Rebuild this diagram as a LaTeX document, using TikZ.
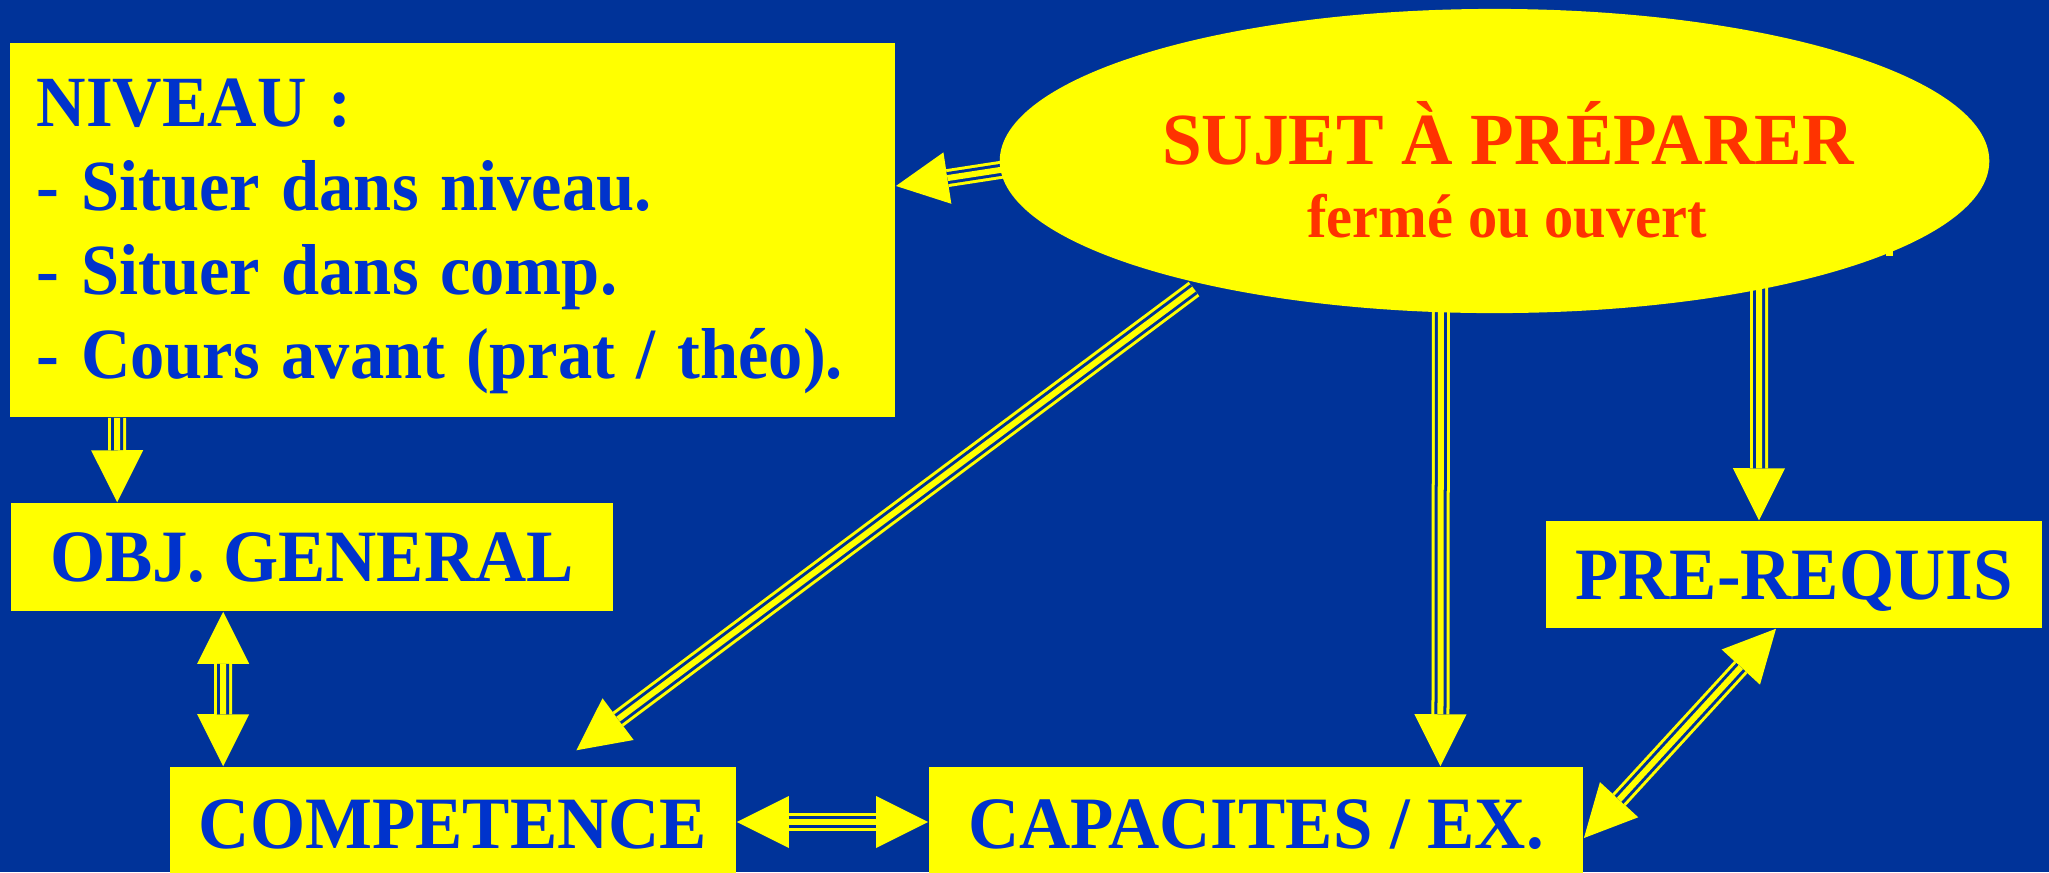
\documentclass[tikz,border=0pt]{standalone}
\usepackage{fontspec}
\newfontfamily\tnr{Liberation Serif}[FakeStretch=0.96]
\newfontfamily\tnrtitle{Liberation Serif}[FakeStretch=0.97]
\newfontfamily\tnrlow{Liberation Serif}[FakeStretch=0.95]
\usetikzlibrary{arrows.meta,shapes.geometric,calc}
\definecolor{bgblue}{HTML}{003399}
\definecolor{txtblue}{HTML}{0033CC}
\definecolor{titred}{HTML}{FF3300}
\definecolor{boxyellow}{HTML}{FFFF00}
\pgfdeclarelayer{bglayer}
\pgfdeclarelayer{connlayer}
\pgfsetlayers{bglayer,connlayer,main}
\newcommand{\nivline}[1]{\mbox{\spaceskip=0.30em\relax #1}}
\tikzset{
  bigtip/.tip={Triangle[length=0.52cm,width=0.52cm,line width=0pt]},
  box/.style={fill=boxyellow, inner sep=0pt, text=txtblue,
    font=\tnr\bfseries\fontsize{21pt}{23.9pt}\selectfont},
  onebox/.style={box, text height=0.49cm, text depth=0pt},
  titlefont/.style={text=titred, inner sep=0pt, anchor=base},
  triple/.style={draw=boxyellow, line width=0.18cm, line cap=butt,
    postaction={draw=bgblue, line width=0.12cm, arrows=-, #1},
    postaction={draw=boxyellow, line width=0.06cm, arrows=-, #1}},
}
\begin{document}
\begin{tikzpicture}[x=0.01cm, y=-0.01cm]
\useasboundingbox (0,0) rectangle (2049,872);
\begin{pgfonlayer}{bglayer}
  \fill[bgblue] (0,0) rectangle (2049,872);
\end{pgfonlayer}

% boxes
\node[box, font=\tnrlow\bfseries\fontsize{20.5pt}{23.9pt}\selectfont,
      minimum width=8.85cm, minimum height=3.74cm, text width=8.31cm,
      inner xsep=0.27cm, align=left] (niveau) at (452.5,230)
  {\nivline{\rule{0pt}{0.6cm}NIVEAU :}\\\nivline{- Situer dans niveau.}\\\nivline{- Situer dans comp.}\\\nivline{- Cours avant (prat / théo).}};
\node[onebox, minimum width=6.02cm, minimum height=1.08cm] (obj) at (312,557) {OBJ. GENERAL};
\node[onebox, minimum width=4.96cm, minimum height=1.07cm] (prerequis) at (1794,574.5) {PRE-REQUIS};
\node[onebox, minimum width=5.66cm, minimum height=1.14cm] (competence) at (453,824) {COMPETENCE};
\node[onebox, minimum width=6.54cm, minimum height=1.14cm] (capacites) at (1256,824) {CAPACITES / EX.};

% ellipse with title
\node[ellipse, fill=boxyellow, minimum width=9.89cm, minimum height=3.04cm, inner sep=0pt] (sujet) at (1494.5,161) {};
\node[titlefont, font=\tnrtitle\bfseries\fontsize{20.9pt}{24pt}\selectfont] (titre) at (1508,164) {SUJET À PRÉPARER};
\node[titlefont, font=\tnrlow\bfseries\fontsize{17.5pt}{21pt}\selectfont] (soustitre) at (1507,237) {fermé ou ouvert};
\fill[boxyellow] (1886,248) rectangle (1893,256);

% connector start points
\path (sujet.center) ++(-464.5,4.4) coordinate (s1);
\path (sujet.center) ++(-300.5,128) coordinate (s4);
\path (sujet.center) ++(-53.5,89) coordinate (s5);
\path (sujet.center) ++(264.5,89) coordinate (s6);

\begin{pgfonlayer}{connlayer}
  \draw[triple={shorten >=0.52cm}, -bigtip] (s1) -- ([yshift=0.44cm]niveau.east);
  \draw[triple={shorten >=0.52cm}, -bigtip] ([xshift=1.08cm]niveau.south west) -- ([xshift=1.07cm]obj.north west);
  \draw[triple={shorten >=0.52cm, shorten <=0.52cm}, bigtip-bigtip] ([xshift=2.13cm]obj.south west) -- ([xshift=0.54cm]competence.north west);
  \draw[triple={shorten >=0.52cm}, -bigtip] (s4) -- ([xshift=4.07cm,yshift=0.16cm]competence.north west);
  \draw[triple={shorten >=0.52cm}, -bigtip] (s5) -- ([xshift=5.12cm]capacites.north west);
  \draw[triple={shorten >=0.52cm}, -bigtip] (s6) -- ([xshift=-0.35cm]prerequis.north);
  \draw[triple={shorten >=0.52cm, shorten <=0.52cm}, bigtip-bigtip] ([yshift=0.02cm]competence.east) -- ([yshift=0.02cm]capacites.west);
  \draw[triple={shorten >=0.52cm, shorten <=0.52cm}, bigtip-bigtip] ([yshift=-0.14cm]capacites.east) -- ([xshift=-0.18cm]prerequis.south);
\end{pgfonlayer}
\end{tikzpicture}
\end{document}
